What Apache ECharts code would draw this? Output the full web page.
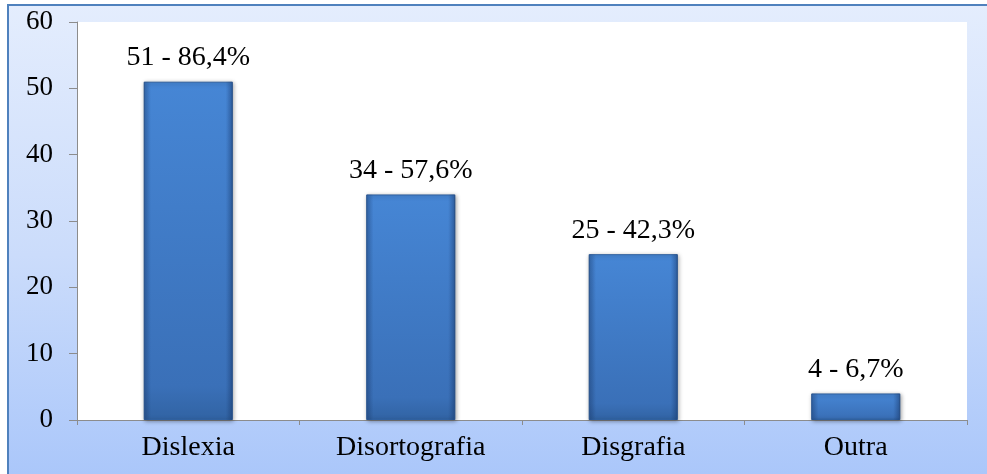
<!DOCTYPE html>
<html>
<head>
<meta charset="utf-8">
<script src="https://cdn.jsdelivr.net/npm/echarts@6/dist/echarts.min.js"></script>
<style>
html,body{margin:0;padding:0;background:#fff;}
#main{width:987px;height:474px;}
</style>
</head>
<body>
<div id="main"></div>
<script>
const categories = ['Dislexia', 'Disortografia', 'Disgrafia', 'Outra'];
const counts = [51, 34, 25, 4];
const percents = ['86,4%', '57,6%', '42,3%', '6,7%'];
const yTicks = [0, 10, 20, 30, 40, 50, 60];

const chart = echarts.init(document.getElementById('main'), null, {renderer: 'canvas'});
const font = '"Liberation Serif", "Times New Roman", serif';

chart.setOption({
  animation: false,
  graphic: [{
    type: 'rect',
    z: -10,
    silent: true,
    shape: {x: 8, y: 5, width: 1000, height: 500},
    style: {
      fill: new echarts.graphic.LinearGradient(0, 0, 0, 1, [
        {offset: 0, color: '#e4edfd'},
        {offset: 0.5, color: '#cbdcfb'},
        {offset: 1, color: '#a6c4fa'}
      ]),
      stroke: '#4f81bd',
      lineWidth: 2
    }
  }],
  grid: {
    left: 77, right: 20, top: 22, bottom: 54,
    show: true, backgroundColor: '#ffffff', borderWidth: 0
  },
  xAxis: {
    type: 'category',
    data: categories,
    axisLine: {lineStyle: {color: '#8c8c8c', width: 1}},
    axisTick: {show: true, length: 5, lineStyle: {color: '#8c8c8c'}},
    axisLabel: {color: '#000', fontFamily: font, fontSize: 28, margin: 14}
  },
  yAxis: {
    type: 'value',
    min: yTicks[0], max: yTicks[yTicks.length - 1], interval: 10,
    splitLine: {show: false},
    axisLine: {show: true, lineStyle: {color: '#8c8c8c', width: 1}},
    axisTick: {show: true, length: 8, lineStyle: {color: '#8c8c8c'}},
    axisLabel: {color: '#000', fontFamily: font, fontSize: 27, margin: 24}
  },
  series: [{
    type: 'bar',
    data: counts,
    barWidth: '40%',
    itemStyle: {
      color: new echarts.graphic.LinearGradient(0, 0, 0, 1, [
        {offset: 0, color: '#4686d5'},
        {offset: 0.9, color: '#3a70b8'},
        {offset: 1, color: '#3163a3'}
      ]),
      borderColor: '#2f609f',
      borderWidth: 1,
      shadowColor: 'rgba(0,0,0,0.35)',
      shadowBlur: 4,
      shadowOffsetX: 1,
      shadowOffsetY: 1
    },
    label: {
      show: true,
      position: 'top',
      distance: 10,
      color: '#000',
      fontFamily: font,
      fontSize: 28,
      formatter: p => counts[p.dataIndex] + ' - ' + percents[p.dataIndex]
    }
  }, {
    type: 'bar',
    data: counts,
    barWidth: '40%',
    barGap: '-100%',
    silent: true,
    itemStyle: {
      color: new echarts.graphic.LinearGradient(0, 0, 1, 0, [
        {offset: 0, color: 'rgba(20,50,100,0.35)'},
        {offset: 0.08, color: 'rgba(20,50,100,0)'},
        {offset: 0.92, color: 'rgba(20,50,100,0)'},
        {offset: 1, color: 'rgba(20,50,100,0.45)'}
      ])
    }
  }]
});
</script>
</body>
</html>
